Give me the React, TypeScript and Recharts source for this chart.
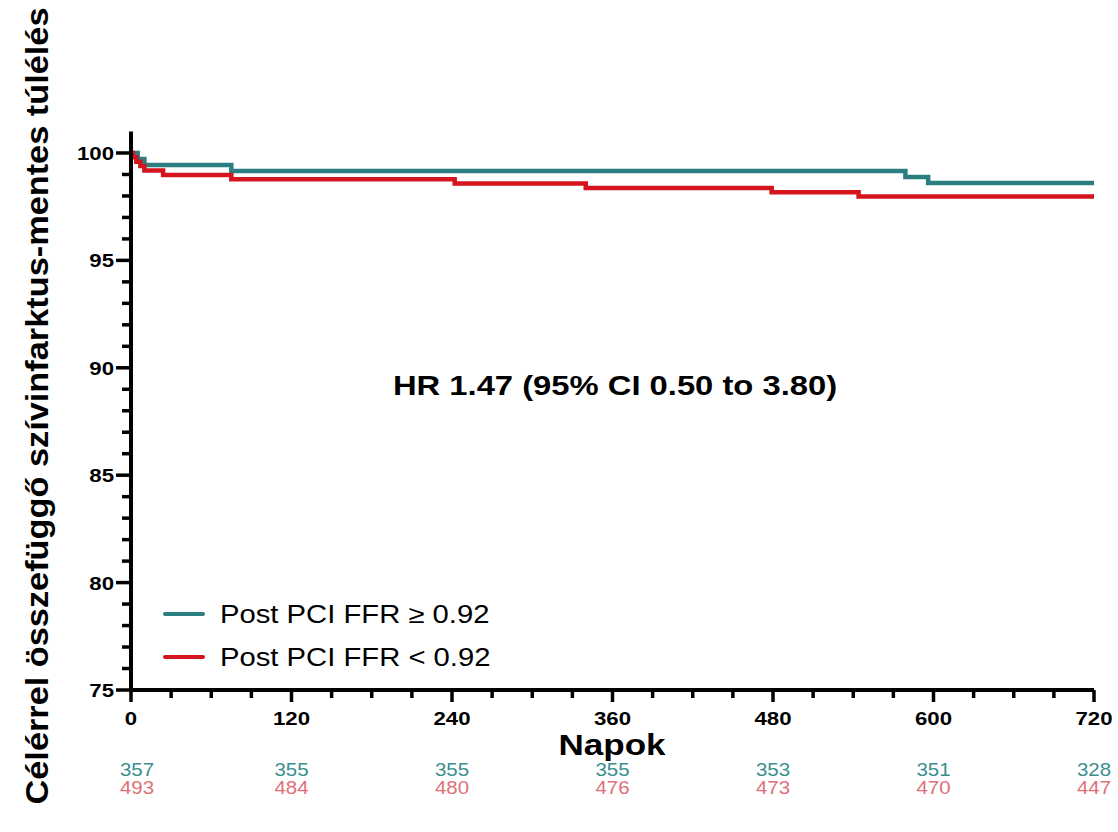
import { CartesianGrid, Customized, Line, LineChart, XAxis, YAxis } from "recharts";

// Kaplan-Meier steps
const highDays = [0, 5, 10, 75, 579, 596, 720];
const highSurv = [100, 99.72, 99.44, 99.16, 98.88, 98.6, 98.6];
const lowDays = [0, 1.5, 4, 7, 10, 24, 75, 242, 340, 479, 544, 720];
const lowSurv = [100, 99.8, 99.59, 99.39, 99.19, 98.98, 98.78, 98.58, 98.37, 98.17, 97.97, 97.97];

// numbers at risk
const riskDays = [0, 120, 240, 360, 480, 600, 720];
const riskHigh = [357, 355, 355, 355, 353, 351, 328];
const riskLow = [493, 484, 480, 476, 473, 470, 447];

const xTicks = Array.from({ length: 25 }, (_, i) => i * 30);
const yTicks = Array.from({ length: 26 }, (_, i) => 75 + i);

const TEAL = "#2b7f80";
const RED = "#d4151d";
const FONT = "'Liberation Sans', Arial, sans-serif";
const SX = 1.17; // the source image is stretched sideways a bit

const highData = highDays.map((d, i) => ({ day: d, s: highSurv[i] }));
const lowData = lowDays.map((d, i) => ({ day: d, s: lowSurv[i] }));

function SText({ x, y, size, bold, anchor = "start", fill = "#000", children }: any) {
  return (
    <text
      transform={`translate(${x},${y}) scale(${SX},1)`}
      fontFamily={FONT}
      fontSize={size}
      fontWeight={bold ? 700 : 400}
      textAnchor={anchor}
      fill={fill}
    >
      {children}
    </text>
  );
}

function XTick({ x, y, payload }: any) {
  const v = payload.value;
  const major = v % 120 === 0;
  const idx = riskDays.indexOf(v);
  return (
    <g>
      <line x1={x} x2={x} y1={y} y2={y + (major ? 12 : 8)} stroke="#000" strokeWidth={3.5} />
      {major && (
        <SText x={x} y={y + 35} size={19} bold anchor="middle">
          {v}
        </SText>
      )}
      {idx >= 0 && (
        <>
          <SText x={x + (idx === 0 ? 6 : 0)} y={y + 86} size={17.5} anchor="middle" fill="#3a8e8e">
            {riskHigh[idx]}
          </SText>
          <SText x={x + (idx === 0 ? 6 : 0)} y={y + 104} size={17.5} anchor="middle" fill="#e06f78">
            {riskLow[idx]}
          </SText>
        </>
      )}
    </g>
  );
}

function YTick({ x, y, payload }: any) {
  const v = payload.value;
  const major = v % 5 === 0;
  return (
    <g>
      <line x1={x - (major ? 15 : 9)} x2={x} y1={y} y2={y} stroke="#000" strokeWidth={3.5} />
      {major && (
        <SText x={x - 17} y={y + 7} size={19} bold anchor="end">
          {v}
        </SText>
      )}
    </g>
  );
}

function Overlay() {
  return (
    <g>
      <SText x={615} y={395} size={28} bold anchor="middle">
        HR 1.47 (95% CI 0.50 to 3.80)
      </SText>
      <SText x={612} y={755} size={30} bold anchor="middle">
        Napok
      </SText>
      <text
        transform={`translate(48,406) scale(${SX},1) rotate(-90)`}
        fontFamily={FONT}
        fontSize={27}
        fontWeight={700}
        textAnchor="middle"
        textLength={797}
        lengthAdjust="spacingAndGlyphs"
      >
        Célérrel összefüggő szívinfarktus-mentes túlélés
      </text>
      <line x1={165} x2={203} y1={614} y2={614} stroke={TEAL} strokeWidth={4} strokeLinecap="round" />
      <SText x={220} y={623} size={25}>
        Post PCI FFR ≥ 0.92
      </SText>
      <line x1={165} x2={203} y1={657} y2={657} stroke={RED} strokeWidth={4} strokeLinecap="round" />
      <SText x={220} y={666} size={25}>
        Post PCI FFR &lt; 0.92
      </SText>
    </g>
  );
}

export default function App() {
  return (
    <div style={{ position: "absolute", left: 0, top: 0, background: "#fff" }}>
      <LineChart width={1118} height={832} margin={{ top: 131.5, right: 24, left: 0, bottom: 0 }}>
        <CartesianGrid stroke="none" />
        <XAxis
          dataKey="day"
          type="number"
          domain={[0, 720]}
          ticks={xTicks}
          interval={0}
          height={142}
          tickSize={0}
          tickMargin={0}
          tick={<XTick />}
          axisLine={{ stroke: "#000", strokeWidth: 4 }}
          allowDuplicatedCategory={false}
        />
        <YAxis
          type="number"
          domain={[75, 101]}
          ticks={yTicks}
          interval={0}
          width={131}
          tickSize={0}
          tickMargin={0}
          tick={<YTick />}
          axisLine={{ stroke: "#000", strokeWidth: 4 }}
          allowDataOverflow
        />
        <Line
          data={highData}
          dataKey="s"
          type="stepAfter"
          stroke={TEAL}
          strokeWidth={4.5}
          dot={false}
          activeDot={false}
          isAnimationActive={false}
        />
        <Line
          data={lowData}
          dataKey="s"
          type="stepAfter"
          stroke={RED}
          strokeWidth={4.5}
          dot={false}
          activeDot={false}
          isAnimationActive={false}
        />
        <Customized component={Overlay} />
      </LineChart>
    </div>
  );
}
